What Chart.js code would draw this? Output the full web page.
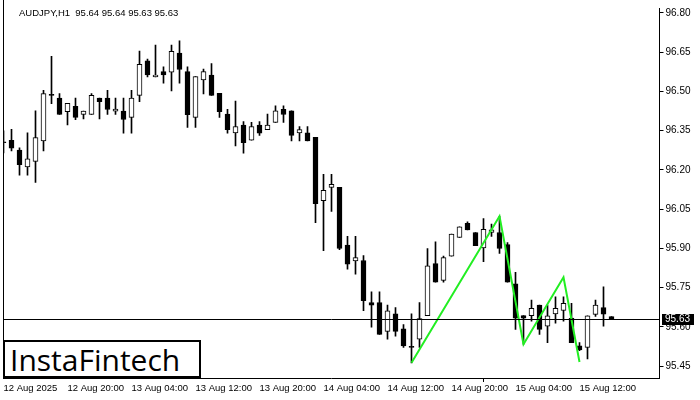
<!DOCTYPE html>
<html><head><meta charset="utf-8">
<script src="https://cdn.jsdelivr.net/npm/chart.js@4.4.1/dist/chart.umd.min.js"></script>
<style>
html,body{margin:0;padding:0;background:#fff;}
#wrap{position:relative;width:700px;height:400px;}
#title{position:absolute;left:19px;top:7px;font:9.5px "Liberation Sans",Arial,sans-serif;color:#000;white-space:pre;}
#logo{position:absolute;left:3px;top:340px;width:189px;height:34px;border:2px solid #000;background:#fff;
  font:30px "Open Sans",sans-serif;color:#000;line-height:36px;padding-left:5px;box-sizing:content-box;white-space:nowrap;overflow:hidden;}
</style></head>
<body><div id="wrap"><canvas id="c" width="700" height="400"></canvas>
<div id="title">AUDJPY,H1  95.64 95.64 95.63 95.63</div>
<div id="logo">InstaFintech</div></div>
<script>
const timeLabels = ["12 Aug 2025","12 Aug 20:00","13 Aug 04:00","13 Aug 12:00","13 Aug 20:00","14 Aug 04:00","14 Aug 12:00","14 Aug 20:00","15 Aug 04:00","15 Aug 12:00"];
const yTickValues = [95.45,95.60,95.75,95.90,96.05,96.20,96.35,96.50,96.65,96.80];
const opens = [96.306,96.313,96.276,96.212,96.233,96.311,96.485,96.475,96.423,96.443,96.412,96.412,96.475,96.475,96.425,96.425,96.401,96.485,96.617,96.556,96.576,96.574,96.647,96.576,96.401,96.544,96.563,96.493,96.414,96.342,96.372,96.314,96.372,96.354,96.382,96.432,96.426,96.342,96.342,96.325,96.083,96.133,96.134,95.913,95.852,95.854,95.693,95.693,95.583,95.650,95.593,95.522,95.553,95.643,95.842,95.778,95.871,95.942,95.996,95.961,95.902,95.961,95.961,95.915,95.765,95.644,95.643,95.684,95.603,95.650,95.663,95.634,95.528,95.522,95.648,95.674,95.64];
const highs = [96.350,96.355,96.285,96.342,96.426,96.504,96.634,96.492,96.455,96.475,96.425,96.492,96.475,96.504,96.475,96.475,96.504,96.654,96.624,96.677,96.594,96.677,96.694,96.594,96.557,96.586,96.607,96.493,96.432,96.463,96.385,96.382,96.385,96.414,96.445,96.445,96.426,96.366,96.366,96.325,96.183,96.183,96.134,95.946,95.946,95.873,95.734,95.734,95.684,95.674,95.609,95.650,95.693,95.900,95.925,95.871,95.955,95.983,96.002,95.961,96.014,95.993,96.023,95.923,95.809,95.644,95.703,95.684,95.684,95.715,95.715,95.690,95.540,95.643,95.703,95.753,95.64];
const lows = [96.265,96.273,96.180,96.180,96.152,96.273,96.453,96.412,96.372,96.392,96.395,96.412,96.395,96.412,96.412,96.341,96.341,96.461,96.556,96.556,96.532,96.502,96.532,96.363,96.363,96.491,96.485,96.401,96.341,96.292,96.264,96.314,96.332,96.354,96.382,96.382,96.311,96.311,96.311,95.999,95.892,96.042,95.895,95.821,95.802,95.662,95.599,95.572,95.553,95.565,95.522,95.463,95.522,95.643,95.771,95.771,95.871,95.942,95.971,95.911,95.850,95.946,95.881,95.771,95.591,95.534,95.622,95.572,95.540,95.615,95.622,95.540,95.509,95.478,95.640,95.603,95.63];
const closes = [96.304,96.283,96.220,96.243,96.324,96.492,96.485,96.412,96.455,96.401,96.425,96.485,96.461,96.431,96.433,96.393,96.475,96.604,96.563,96.563,96.563,96.653,96.584,96.411,96.557,96.576,96.485,96.423,96.354,96.366,96.304,96.366,96.341,96.372,96.426,96.412,96.332,96.354,96.311,96.071,96.122,96.145,95.900,95.840,95.865,95.701,95.683,95.572,95.662,95.583,95.528,95.522,95.632,95.834,95.771,95.865,95.955,95.983,95.971,95.911,95.973,95.971,95.900,95.771,95.634,95.634,95.671,95.591,95.643,95.671,95.690,95.540,95.512,95.643,95.684,95.649,95.63];
const patternIndex = [51,62,65,70,72];
const patternValues = [95.463,96.023,95.534,95.790,95.466];
const currentPrice = 95.63;
const barsPerLabel = 8;
const totalSlots = 83;

const slotLabels = Array.from({length: totalSlots}, (_, i) => String(i));
const patternData = Array.from({length: opens.length}, () => null);
patternIndex.forEach((idx, j) => { patternData[idx] = patternValues[j]; });

const FONT = "'Liberation Sans', Arial, sans-serif";

const framePlugin = {
  id: 'frame',
  afterDraw(chart) {
    const {ctx, chartArea, scales} = chart;
    const y = scales.y.getPixelForValue(currentPrice);
    const yr = Math.round(y) + 0.5;
    ctx.save();
    ctx.strokeStyle = '#000';
    ctx.lineWidth = 1;
    ctx.beginPath();
    ctx.moveTo(Math.floor(chartArea.left) + 0.5, 0);
    ctx.lineTo(Math.floor(chartArea.left) + 0.5, chartArea.bottom);
    ctx.moveTo(chartArea.left, yr);
    ctx.lineTo(chartArea.right, yr);
    ctx.stroke();
    ctx.fillStyle = '#000';
    ctx.fillRect(Math.round(chartArea.right) + 2, Math.round(y) - 5, 32, 11);
    ctx.fillStyle = '#fff';
    ctx.font = '10px ' + FONT;
    ctx.textBaseline = 'middle';
    ctx.textAlign = 'left';
    ctx.fillText(currentPrice.toFixed(2), Math.round(chartArea.right) + 5, Math.round(y) + 0.5);
    ctx.restore();
  }
};

new Chart(document.getElementById('c'), {
  data: {
    labels: slotLabels,
    datasets: [
      {
        type: 'line', data: patternData, spanGaps: true, borderColor: '#22ee22', borderWidth: 2,
        pointRadius: 0, order: 0, tension: 0
      },
      {
        type: 'bar', data: opens.map((o, i) => [o, closes[i]]),
        backgroundColor: opens.map((o, i) => closes[i] > o ? '#ffffff' : '#000000'),
        borderColor: '#000', borderWidth: 1, borderSkipped: false, barThickness: 5,
        minBarLength: 1, grouped: false, order: 1
      },
      {
        type: 'bar', data: lows.map((l, i) => [l, highs[i]]),
        backgroundColor: '#000', borderWidth: 0, barThickness: 1, grouped: false, order: 2
      }
    ]
  },
  options: {
    responsive: false, animation: false, devicePixelRatio: 1,
    layout: {padding: {left: 3.5, top: 0, right: 0, bottom: 0}},
    plugins: {legend: {display: false}, tooltip: {enabled: false}},
    scales: {
      x: {
        type: 'category', offset: false,
        grid: {drawOnChartArea: false, drawTicks: true, tickLength: 4,
          color: ctx => (ctx.index % barsPerLabel === 0 ? '#000' : 'rgba(0,0,0,0)')},
        border: {display: true, color: '#000', width: 1},
        ticks: {autoSkip: false, maxRotation: 0, minRotation: 0, align: 'start', padding: 1,
          color: '#000', font: {family: FONT, size: 9.5},
          callback: (v, i) => (i % barsPerLabel === 0 && timeLabels[i / barsPerLabel]) ? timeLabels[i / barsPerLabel] : null},
        afterFit: s => { s.height = 22; }
      },
      y: {
        position: 'right', min: 95.405, max: 96.819,
        afterBuildTicks: s => { s.ticks = yTickValues.map(v => ({value: v})); },
        grid: {drawOnChartArea: false, drawTicks: true, tickLength: 4, color: '#000'},
        border: {display: true, color: '#000', width: 1},
        ticks: {padding: 2, color: '#000', font: {family: FONT, size: 10}, callback: v => Number(v).toFixed(2)},
        afterFit: s => { s.width = 40.5; }
      }
    }
  },
  plugins: [framePlugin]
});
</script></body></html>
